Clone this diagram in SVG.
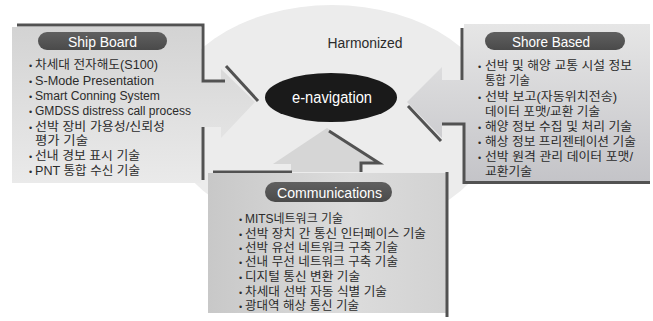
<svg xmlns="http://www.w3.org/2000/svg" width="653" height="321" viewBox="0 0 653 321">
<defs>
<linearGradient id="gShip" x1="0" y1="0" x2="0" y2="1">
<stop offset="0" stop-color="#d3d3d3"/><stop offset="1" stop-color="#eaeaea"/>
</linearGradient>
<linearGradient id="gShore" x1="0" y1="0" x2="0" y2="1">
<stop offset="0" stop-color="#e6e6e6"/><stop offset="1" stop-color="#c4c4c8"/>
</linearGradient>
<linearGradient id="gComm" x1="0" y1="0" x2="1" y2="0">
<stop offset="0" stop-color="#c8c8c8"/><stop offset="0.6" stop-color="#dcdcdc"/><stop offset="1" stop-color="#d2d2d2"/>
</linearGradient>
<linearGradient id="gPill" x1="0" y1="0" x2="0" y2="1">
<stop offset="0" stop-color="#606060"/><stop offset="1" stop-color="#4a4a4a"/>
</linearGradient>
</defs>
<style>
.txt{font-family:"Liberation Sans","Noto Sans CJK KR",sans-serif;font-size:12px;fill:#2b2b2b}
.bul{font-family:"Liberation Sans",sans-serif;font-size:9px;fill:#2b2b2b}
.hd{font-family:"Liberation Sans","Noto Sans CJK KR",sans-serif;font-size:14.5px;fill:#ffffff;text-anchor:middle}
.edge{fill:none;stroke:#525252;stroke-width:3}
.pill{fill:url(#gPill)}
</style>
<rect width="653" height="321" fill="#ffffff"/>
<ellipse id="background" cx="332" cy="119" rx="166" ry="114" fill="#ececec"/>
<text x="327.5" y="48" class="txt" style="font-size:14px" textLength="75" lengthAdjust="spacingAndGlyphs">Harmonized</text>

<g id="connectors">
<path d="M291,172 L291,164 L273,164 L327,128 L381,164 L360,164 L360,172 Z" fill="#d6d6d6"/>
<path class="edge" d="M213,172 L292,172"/>
<path class="edge" d="M329,131 L379,163 L361,163 L361,172"/>
</g>

<g id="ship-board">
<path d="M12,27 L201,27 L201,82 L221,82 L221,69 L255,102 L221,138 L221,127 L201,127 L201,183 L12,183 Z" fill="url(#gShip)"/>
<path class="edge" d="M17,25 L203,25 L203,81 L225,81"/>
<path class="edge" d="M226,66 L258,101"/>
<path class="edge" d="M203,127 L203,180"/>
<rect x="38" y="32" width="129" height="18" rx="9" class="pill"/>
<text x="102.5" y="47" class="hd" textLength="69" lengthAdjust="spacingAndGlyphs">Ship Board</text>
<g class="bul"><text x="29" y="69">•</text><text x="29" y="84.5">•</text><text x="29" y="100">•</text><text x="29" y="115">•</text><text x="29" y="130.5">•</text><text x="29" y="160">•</text><text x="29" y="175">•</text></g>
<text x="35" y="69" class="txt" textLength="123" lengthAdjust="spacingAndGlyphs">차세대 전자해도(S100)</text>
<text x="35" y="84.5" class="txt" textLength="119" lengthAdjust="spacingAndGlyphs">S-Mode Presentation</text>
<text x="35" y="100" class="txt" textLength="125" lengthAdjust="spacingAndGlyphs">Smart Conning System</text>
<text x="35" y="115" class="txt" textLength="156" lengthAdjust="spacingAndGlyphs">GMDSS distress call process</text>
<text x="35" y="130.5" class="txt" textLength="130" lengthAdjust="spacingAndGlyphs">선박 장비 가용성/신뢰성</text>
<text x="35" y="145" class="txt" textLength="53" lengthAdjust="spacingAndGlyphs">평가 기술</text>
<text x="35" y="160" class="txt" textLength="105" lengthAdjust="spacingAndGlyphs">선내 경보 표시 기술</text>
<text x="35" y="175" class="txt" textLength="105" lengthAdjust="spacingAndGlyphs">PNT 통합 수신 기술</text>
</g>

<g id="shore-based">
<path d="M464,24 L650,24 L650,181 L464,181 L464,125 L442,125 L442,138 L407,102 L442,67 L442,80 L464,80 Z" fill="url(#gShore)"/>
<path class="edge" d="M462,28 L462,80"/>
<path class="edge" d="M408,106 L441,141"/>
<path class="edge" d="M442,124 L464,124 L464,182.5 L650,182.5"/>
<rect x="485" y="32" width="140" height="18" rx="9" class="pill"/>
<text x="551" y="47" class="hd" textLength="78" lengthAdjust="spacingAndGlyphs">Shore Based</text>
<g class="bul"><text x="478" y="69.5">•</text><text x="478" y="101">•</text><text x="478" y="130.5">•</text><text x="478" y="145.5">•</text><text x="478" y="160.5">•</text></g>
<text x="485" y="69.5" class="txt" textLength="147" lengthAdjust="spacingAndGlyphs">선박 및 해양 교통 시설 정보</text>
<text x="485" y="84.5" class="txt" textLength="45" lengthAdjust="spacingAndGlyphs">통합 기술</text>
<text x="485" y="101" class="txt" textLength="132" lengthAdjust="spacingAndGlyphs">선박 보고(자동위치전송)</text>
<text x="485" y="116" class="txt" textLength="115" lengthAdjust="spacingAndGlyphs">데이터 포맷/교환 기술</text>
<text x="485" y="130.5" class="txt" textLength="147" lengthAdjust="spacingAndGlyphs">해양 정보 수집 및 처리 기술</text>
<text x="485" y="145.5" class="txt" textLength="151" lengthAdjust="spacingAndGlyphs">해상 정보 프리젠테이션 기술</text>
<text x="485" y="160.5" class="txt" textLength="148" lengthAdjust="spacingAndGlyphs">선박 원격 관리 데이터 포맷/</text>
<text x="485" y="175.5" class="txt" textLength="47" lengthAdjust="spacingAndGlyphs">교환기술</text>
</g>

<g id="communications">
<rect x="208" y="173" width="238" height="140" fill="url(#gComm)"/>
<path class="edge" d="M447,172 L447,317"/>
<rect x="265" y="182" width="127" height="20" rx="10" class="pill"/>
<text x="329.5" y="197.5" class="hd" textLength="105" lengthAdjust="spacingAndGlyphs">Communications</text>
<g class="bul"><text x="239" y="223">•</text><text x="239" y="238">•</text><text x="239" y="252">•</text><text x="239" y="266">•</text><text x="239" y="281">•</text><text x="239" y="296">•</text><text x="239" y="309.5">•</text></g>
<text x="245" y="223" class="txt" textLength="98" lengthAdjust="spacingAndGlyphs">MITS네트워크 기술</text>
<text x="245" y="238" class="txt" textLength="181" lengthAdjust="spacingAndGlyphs">선박 장치 간 통신 인터페이스 기술</text>
<text x="245" y="252" class="txt" textLength="153" lengthAdjust="spacingAndGlyphs">선박 유선 네트워크 구축 기술</text>
<text x="245" y="266" class="txt" textLength="153" lengthAdjust="spacingAndGlyphs">선내 무선 네트워크 구축 기술</text>
<text x="245" y="281" class="txt" textLength="115" lengthAdjust="spacingAndGlyphs">디지털 통신 변환 기술</text>
<text x="245" y="296" class="txt" textLength="142" lengthAdjust="spacingAndGlyphs">차세대 선박 자동 식별 기술</text>
<text x="245" y="309.5" class="txt" textLength="114" lengthAdjust="spacingAndGlyphs">광대역 해상 통신 기술</text>
</g>

<g id="e-navigation">
<ellipse cx="331" cy="97.5" rx="66" ry="24.5" fill="#1a1a1a"/>
<text x="332" y="103" class="hd" style="font-size:16px" textLength="80" lengthAdjust="spacingAndGlyphs">e-navigation</text>
</g>
</svg>
